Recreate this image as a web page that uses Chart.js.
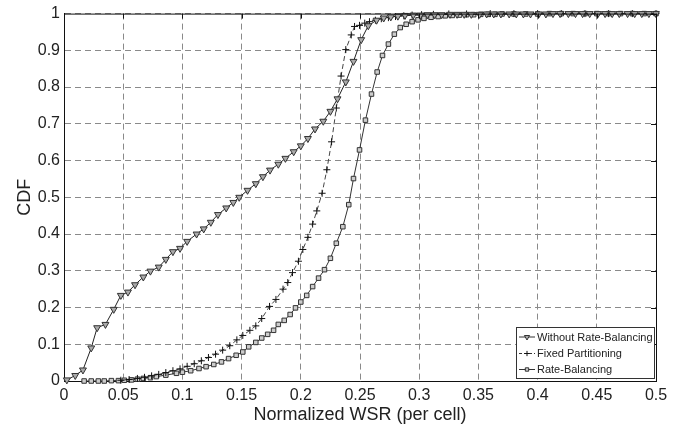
<!DOCTYPE html>
<html>
<head>
<meta charset="utf-8">
<script src="https://cdn.jsdelivr.net/npm/chart.js@4/dist/chart.umd.min.js"></script>
<style>
  html, body { margin: 0; padding: 0; background: #fff; }
  #wrap { width: 677px; height: 432px; position: relative; }
</style>
</head>
<body>
<div id="wrap"><canvas id="c" width="677" height="432"></canvas></div>
<script>
// ---- Data ----
const seriesLabels = ['Without Rate-Balancing', 'Fixed Partitioning', 'Rate-Balancing'];

const withoutX = [0.0024,0.0095,0.016,0.023,0.028,0.035,0.042,0.048,0.054,0.060,0.067,0.073,0.080,0.086,0.092,0.098,0.104,0.112,0.118,0.124,0.130,0.137,0.143,0.148,0.155,0.162,0.168,0.174,0.181,0.187,0.194,0.200,0.206,0.212,0.219,0.225,0.231,0.238,0.2445,0.251,0.257,0.264,0.270,0.276,0.282,0.288,0.295,0.301,0.307,0.313,0.319,0.326,0.332,0.338,0.344,0.351,0.357,0.363,0.369,0.376,0.382,0.388,0.394,0.401,0.407,0.413,0.419,0.426,0.432,0.438,0.444,0.451,0.457,0.463,0.469,0.476,0.482,0.488,0.494,0.500];
const withoutY = [0.003,0.015,0.030,0.090,0.145,0.154,0.195,0.233,0.242,0.262,0.283,0.299,0.310,0.331,0.352,0.361,0.380,0.400,0.414,0.432,0.453,0.471,0.486,0.500,0.519,0.537,0.556,0.574,0.590,0.606,0.624,0.640,0.660,0.686,0.707,0.734,0.768,0.814,0.870,0.929,0.967,0.982,0.988,0.991,0.993,0.995,0.996,0.996,0.997,0.997,0.997,0.998,0.998,0.998,0.998,0.998,0.999,0.999,0.999,0.999,0.999,0.999,0.999,0.999,0.999,1.000,1.000,1.000,1.000,1.000,1.000,1.000,1.000,1.000,1.000,1.000,1.000,1.000,1.000,1.000];

const fixedX = [0.048,0.055,0.062,0.068,0.074,0.080,0.086,0.092,0.098,0.104,0.110,0.116,0.122,0.128,0.134,0.140,0.146,0.151,0.157,0.162,0.167,0.1736,0.179,0.185,0.189,0.193,0.198,0.2017,0.206,0.210,0.2135,0.218,0.222,0.226,0.230,0.234,0.238,0.2426,0.2454,0.2496,0.254,0.258,0.263,0.268,0.274,0.280,0.287,0.294,0.302,0.312,0.325,0.340,0.360,0.380,0.400,0.420,0.440,0.460,0.480,0.500];
const fixedY = [0.002,0.004,0.007,0.010,0.014,0.018,0.023,0.028,0.033,0.040,0.047,0.055,0.064,0.073,0.084,0.096,0.112,0.124,0.138,0.150,0.170,0.203,0.222,0.250,0.268,0.295,0.326,0.358,0.391,0.427,0.463,0.511,0.575,0.651,0.743,0.830,0.902,0.942,0.965,0.968,0.974,0.978,0.982,0.986,0.989,0.992,0.994,0.996,0.997,0.998,0.999,0.999,1.000,1.000,1.000,1.000,1.000,1.000,1.000,1.000];

const rbX = [0.017,0.023,0.029,0.034,0.040,0.046,0.051,0.057,0.062,0.067,0.073,0.078,0.086,0.095,0.100,0.107,0.114,0.120,0.1265,0.133,0.139,0.1454,0.151,0.156,0.162,0.167,0.172,0.177,0.181,0.186,0.191,0.1955,0.200,0.205,0.210,0.215,0.220,0.225,0.230,0.2355,0.2405,0.2445,0.2496,0.2546,0.2597,0.2645,0.269,0.274,0.279,0.284,0.289,0.294,0.299,0.304,0.310,0.316,0.322,0.328,0.334,0.340,0.346,0.352,0.358,0.364,0.370,0.380,0.390,0.400,0.410,0.420,0.430,0.440,0.450,0.460,0.470,0.480,0.490,0.500];
const rbY = [0.000,0.000,0.000,0.000,0.001,0.001,0.002,0.003,0.005,0.007,0.009,0.012,0.016,0.021,0.024,0.028,0.034,0.039,0.045,0.052,0.061,0.070,0.079,0.093,0.105,0.117,0.127,0.138,0.154,0.165,0.181,0.199,0.215,0.233,0.257,0.280,0.303,0.334,0.375,0.420,0.480,0.551,0.629,0.710,0.781,0.841,0.886,0.917,0.944,0.962,0.971,0.978,0.983,0.987,0.990,0.992,0.994,0.995,0.996,0.997,0.997,0.998,0.998,0.998,0.999,0.999,0.999,0.999,1.000,1.000,1.000,1.000,1.000,1.000,1.000,1.000,1.000,1.000];

const xTicks = [0,0.05,0.1,0.15,0.2,0.25,0.3,0.35,0.4,0.45,0.5];
const yTicks = [0,0.1,0.2,0.3,0.4,0.5,0.6,0.7,0.8,0.9,1];

function pts(xs, ys) { return xs.map((x, i) => ({x: x, y: ys[i]})); }

const FONT = "'Liberation Sans', Arial, Helvetica, sans-serif";

const frameAndLegend = {
  id: 'frameAndLegend',
  afterDatasetsDraw(chart) {
    const {ctx, chartArea: a} = chart;
    ctx.save();
    ctx.strokeStyle = '#111';
    ctx.lineWidth = 1;
    ctx.setLineDash([]);
    ctx.beginPath();
    ctx.moveTo(a.left, a.top + 0.5);
    ctx.lineTo(a.right + 0.5, a.top + 0.5);
    ctx.lineTo(a.right + 0.5, a.bottom);
    ctx.stroke();
    // small inward ticks on top and right edges
    const xs = chart.scales.x, ys = chart.scales.y;
    ctx.beginPath();
    xTicks.forEach(v => { const px = Math.round(xs.getPixelForValue(v)) + 0.5; ctx.moveTo(px, a.top); ctx.lineTo(px, a.top + 5); });
    yTicks.forEach(v => { const py = Math.round(ys.getPixelForValue(v)) + 0.5; ctx.moveTo(a.right, py); ctx.lineTo(a.right - 5, py); });
    ctx.stroke();

    // legend box
    const bx = 516, by = 327, bw = 138, bh = 51;
    ctx.fillStyle = '#fff';
    ctx.fillRect(bx, by, bw, bh);
    ctx.strokeStyle = '#333';
    ctx.strokeRect(bx + 0.5, by + 0.5, bw, bh);
    ctx.font = '11px ' + FONT;
    ctx.textBaseline = 'middle';
    ctx.textAlign = 'left';
    const rows = [337, 353.5, 369.5];
    chart.data.datasets.forEach((ds, i) => {
      const y = rows[i];
      ctx.strokeStyle = '#333';
      ctx.lineWidth = 1;
      ctx.setLineDash(ds.borderDash && ds.borderDash.length ? [3, 2] : []);
      ctx.beginPath();
      ctx.moveTo(519, y); ctx.lineTo(535, y);
      ctx.stroke();
      ctx.setLineDash([]);
      ctx.fillStyle = ds.pointBackgroundColor || '#fff';
      ctx.strokeStyle = ds.pointBorderColor || '#333';
      Chart.helpers.drawPoint(ctx, {
        pointStyle: ds.pointStyle, rotation: ds.pointRotation || 0,
        radius: ds.pointRadius * 0.75, borderWidth: 1
      }, 527, y);
      ctx.fillStyle = '#222';
      ctx.fillText(ds.label, 537, y + 0.5);
    });
    ctx.restore();
  }
};

new Chart(document.getElementById('c'), {
  type: 'scatter',
  data: {
    datasets: [
      {
        label: seriesLabels[0], data: pts(withoutX, withoutY), showLine: true,
        borderColor: '#222', borderWidth: 1, pointStyle: 'triangle', pointRotation: 180,
        pointRadius: 4, pointBackgroundColor: '#aaa', pointBorderColor: '#333', pointBorderWidth: 1, clip: false
      },
      {
        label: seriesLabels[1], data: pts(fixedX, fixedY), showLine: true,
        borderColor: '#444', borderWidth: 1, borderDash: [5, 3], pointStyle: 'cross',
        pointRadius: 3.5, pointBorderColor: '#111', pointBorderWidth: 1, clip: false
      },
      {
        label: seriesLabels[2], data: pts(rbX, rbY), showLine: true,
        borderColor: '#333', borderWidth: 1, pointStyle: 'rect',
        pointRadius: 3.2, pointBackgroundColor: '#ccc', pointBorderColor: '#333', pointBorderWidth: 1, clip: false
      }
    ]
  },
  options: {
    responsive: false,
    animation: false,
    events: [],
    layout: { padding: { top: 12, right: 21, left: 0, bottom: 0 } },
    plugins: { legend: { display: false }, tooltip: { enabled: false } },
    scales: {
      x: {
        type: 'linear', min: 0, max: 0.5,
        afterFit(s) { s.height = 51; },
        afterBuildTicks(s) { s.ticks = xTicks.map(v => ({value: v})); },
        ticks: { font: { family: FONT, size: 16 }, color: '#222', padding: 5, maxRotation: 0,
                 callback: v => String(+v.toFixed(2)) },
        grid: { color: '#8a8a8a', lineWidth: 1, drawTicks: false },
        border: { display: true, color: '#111', width: 1, dash: [6, 4] },
        title: { display: true, text: 'Normalized WSR (per cell)', font: { family: FONT, size: 18 }, color: '#222', padding: { top: 0, bottom: 6 } }
      },
      y: {
        type: 'linear', min: 0, max: 1,
        afterFit(s) { s.width = 64; },
        afterBuildTicks(s) { s.ticks = yTicks.map(v => ({value: v})); },
        ticks: { font: { family: FONT, size: 16 }, color: '#222', padding: 4,
                 callback: v => String(+v.toFixed(2)) },
        grid: { color: '#8a8a8a', lineWidth: 1, drawTicks: false },
        border: { display: true, color: '#111', width: 1, dash: [6, 4] },
        title: { display: true, text: 'CDF', font: { family: FONT, size: 18 }, color: '#222', padding: { top: 14, bottom: 0 } }
      }
    }
  },
  plugins: [frameAndLegend]
});
</script>
</body>
</html>
